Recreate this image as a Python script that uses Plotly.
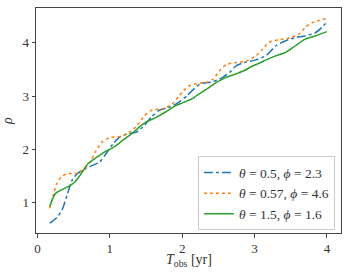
import plotly.graph_objects as go

# Series 1: theta=0.5, phi=2.3
t_blue = [0.17, 0.27, 0.34, 0.41, 0.48, 0.55, 0.64, 0.77, 0.86, 0.95, 1.05, 1.14, 1.25, 1.36,
          1.48, 1.57, 1.68, 1.82, 1.95, 2.07, 2.16, 2.25, 2.39, 2.52, 2.66, 2.75, 2.86, 3.02,
          3.16, 3.30, 3.43, 3.57, 3.70, 3.84, 3.93, 4.00]
rho_blue = [0.61, 0.72, 0.86, 1.14, 1.42, 1.54, 1.62, 1.70, 1.76, 1.92, 2.11, 2.23, 2.29, 2.32,
            2.45, 2.60, 2.73, 2.79, 2.88, 3.01, 3.13, 3.23, 3.26, 3.32, 3.45, 3.57, 3.63, 3.68,
            3.76, 3.95, 4.04, 4.10, 4.13, 4.19, 4.29, 4.39]

# Series 2: theta=0.57, phi=4.6
t_orange = [0.17, 0.22, 0.27, 0.33, 0.41, 0.55, 0.64, 0.73, 0.80, 0.89, 1.00, 1.14, 1.23, 1.36,
            1.48, 1.59, 1.73, 1.86, 1.95, 2.02, 2.08, 2.20, 2.34, 2.43, 2.52, 2.61, 2.75, 2.89,
            3.02, 3.11, 3.20, 3.34, 3.48, 3.61, 3.70, 3.80, 3.89, 4.00]
rho_orange = [0.89, 1.15, 1.36, 1.48, 1.54, 1.55, 1.62, 1.76, 1.95, 2.13, 2.22, 2.24, 2.29, 2.42,
              2.63, 2.74, 2.76, 2.85, 2.99, 3.10, 3.18, 3.23, 3.26, 3.32, 3.48, 3.59, 3.63, 3.66,
              3.76, 3.88, 4.01, 4.06, 4.09, 4.16, 4.29, 4.38, 4.42, 4.46]

# Series 3: theta=1.5, phi=1.6
t_green = [0.17, 0.25, 0.34, 0.43, 0.52, 0.61, 0.70, 0.82, 0.93, 1.02, 1.11, 1.18, 1.30, 1.41,
           1.50, 1.64, 1.77, 1.91, 2.02, 2.14, 2.20, 2.34, 2.48, 2.61, 2.75, 2.86, 2.98, 3.07,
           3.16, 3.30, 3.43, 3.57, 3.70, 3.84, 4.00]
rho_green = [0.93, 1.17, 1.24, 1.30, 1.39, 1.55, 1.73, 1.85, 1.95, 2.01, 2.09, 2.17, 2.29, 2.42,
             2.51, 2.60, 2.70, 2.82, 2.88, 2.95, 3.01, 3.13, 3.26, 3.35, 3.42, 3.48, 3.57, 3.62,
             3.68, 3.76, 3.82, 3.95, 4.07, 4.13, 4.21]

labels = ["<i>θ</i> = 0.5, <i>ϕ</i> = 2.3",
          "<i>θ</i> = 0.57, <i>ϕ</i> = 4.6",
          "<i>θ</i> = 1.5, <i>ϕ</i> = 1.6"]
x_ticks = [0, 1, 2, 3, 4]
y_ticks = [1, 2, 3, 4]
x_title = "<i>T</i><sub>obs</sub> [yr]"
y_title = "<i>ρ</i>"

FONT = "Liberation Serif, Times New Roman, DejaVu Serif, serif"

fig = go.Figure()
fig.add_trace(go.Scatter(x=t_blue, y=rho_blue, mode="lines", name=labels[0],
                         line=dict(color="#1f77b4", width=1.5, dash="dashdot", shape="spline", smoothing=0.7)))
fig.add_trace(go.Scatter(x=t_orange, y=rho_orange, mode="lines", name=labels[1],
                         line=dict(color="#ff7f0e", width=1.5, dash="dot", shape="spline", smoothing=0.7)))
fig.add_trace(go.Scatter(x=t_green, y=rho_green, mode="lines", name=labels[2],
                         line=dict(color="#2ca02c", width=1.5, shape="spline", smoothing=0.7)))

axis_common = dict(showline=True, linecolor="#444", linewidth=1, mirror=True,
                   ticks="outside", ticklen=3.5, tickwidth=1, tickcolor="#444",
                   showgrid=False, zeroline=False,
                   tickfont=dict(family=FONT, size=13, color="#333"))

fig.update_xaxes(range=[-0.02, 4.195], tickvals=x_ticks, **axis_common)
fig.update_yaxes(range=[0.425, 4.655], tickvals=y_ticks,
                 title=dict(text=y_title, font=dict(family=FONT, size=14, color="#333"),
                            standoff=6),
                 **axis_common)

fig.add_annotation(text=x_title, xref="paper", yref="paper", x=0.5, y=-0.124,
                   xanchor="center", yanchor="middle", showarrow=False,
                   font=dict(family=FONT, size=14, color="#333"))

fig.update_layout(
    width=349, height=273,
    margin=dict(l=32, r=8, t=7, b=40),
    plot_bgcolor="white", paper_bgcolor="white",
    font=dict(family=FONT, size=13, color="#333"),
    legend=dict(x=0.98, y=0.012, xanchor="right", yanchor="bottom",
                bgcolor="rgba(255,255,255,0.8)", bordercolor="#ccc", borderwidth=1,
                font=dict(family=FONT, size=13.5, color="#333"),
                tracegroupgap=0),
)

fig.write_html("out.html", config={"displayModeBar": False},
               post_script="document.body.style.margin='0';")
